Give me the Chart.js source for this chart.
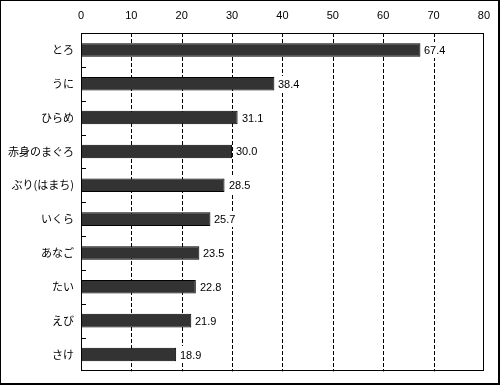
<!DOCTYPE html>
<html>
<head>
<meta charset="utf-8">
<script src="https://cdn.jsdelivr.net/npm/chart.js@4/dist/chart.umd.min.js"></script>
<style>
html,body{margin:0;padding:0;background:#fff;}
#wrap{position:relative;width:500px;height:385px;}
</style>
</head>
<body>
<div id="wrap"><canvas id="c" width="500" height="385"></canvas></div>
<script>
const categories = ["とろ","うに","ひらめ","赤身のまぐろ","ぶり(はまち)","いくら","あなご","たい","えび","さけ"];
const values = [67.4, 38.4, 31.1, 30.0, 28.5, 25.7, 23.5, 22.8, 21.9, 18.9];
const tickLabels = [0,10,20,30,40,50,60,70,80];

const JFONT = '"Noto Sans CJK JP", "Noto Sans", sans-serif';
const NFONT = '"Liberation Sans", Arial, sans-serif';

const framePlugin = {
  id: 'frame',
  beforeDraw(chart) {
    const ctx = chart.ctx;
    ctx.save();
    ctx.fillStyle = '#fff';
    ctx.fillRect(0, 0, chart.width, chart.height);
    ctx.restore();
  },
  beforeDatasetsDraw(chart) {
    const ctx = chart.ctx;
    const a = chart.chartArea;
    const xs = chart.scales.x;
    ctx.save();
    ctx.strokeStyle = '#000';
    ctx.lineWidth = 1;
    ctx.setLineDash([4, 2]);
    ctx.beginPath();
    tickLabels.forEach(v => {
      if (v === xs.min || v === xs.max) return;
      const x = Math.round(xs.getPixelForValue(v)) + 0.5;
      ctx.moveTo(x, a.top);
      ctx.lineTo(x, a.bottom);
    });
    ctx.stroke();
    ctx.restore();
  },
  afterDraw(chart) {
    const ctx = chart.ctx;
    const a = chart.chartArea;
    const ys = chart.scales.y;
    ctx.save();
    ctx.strokeStyle = '#000';
    ctx.lineWidth = 1;
    ctx.strokeRect(Math.round(a.left) + 0.5, Math.round(a.top) + 0.5, Math.round(a.right - a.left) - 1, Math.round(a.bottom - a.top) - 1);
    ctx.beginPath();
    for (let i = 1; i < categories.length; i++) {
      const y = Math.round((ys.getPixelForValue(i - 1) + ys.getPixelForValue(i)) / 2) + 0.5;
      ctx.moveTo(Math.round(a.left), y);
      ctx.lineTo(Math.round(a.left) + 5, y);
    }
    ctx.stroke();
    ctx.font = '11px ' + NFONT;
    ctx.textAlign = 'left';
    ctx.textBaseline = 'middle';
    const meta = chart.getDatasetMeta(0);
    meta.data.forEach((bar, i) => {
      const txt = values[i].toFixed(1);
      const w = ctx.measureText(txt).width;
      const x0 = Math.round(bar.x) + 2;
      ctx.fillStyle = '#fff';
      ctx.fillRect(x0, Math.round(bar.y) - 8, Math.ceil(w) + 4, 16);
      ctx.fillStyle = '#000';
      ctx.fillText(txt, x0 + 2, bar.y + 1);
    });
    ctx.fillStyle = '#000';
    ctx.fillRect(0, 0, chart.width, 1);
    ctx.fillRect(0, 0, 1, chart.height);
    ctx.fillRect(chart.width - 2, 0, 2, chart.height);
    ctx.fillRect(0, chart.height - 2, chart.width, 2);
    ctx.restore();
  }
};

new Chart(document.getElementById('c'), {
  type: 'bar',
  data: {
    labels: categories,
    datasets: [{
      data: values,
      backgroundColor: '#333333',
      borderColor: '#000000',
      borderWidth: 1,
      borderSkipped: false,
      categoryPercentage: 0.4,
      barPercentage: 1.0
    }]
  },
  options: {
    indexAxis: 'y',
    responsive: false,
    animation: false,
    devicePixelRatio: 1,
    layout: { padding: { top: 0, left: 0, right: 13, bottom: 5 } },
    plugins: { legend: { display: false }, tooltip: { enabled: false } },
    scales: {
      x: {
        position: 'top',
        min: 0,
        max: 80,
        afterBuildTicks(scale) { scale.ticks = tickLabels.map(v => ({ value: v })); },
        afterFit(scale) { scale.height = 33; },
        ticks: {
          color: '#000',
          font: { family: NFONT, size: 11 },
          padding: 10,
          callback: (v) => String(v)
        },
        grid: { display: false, drawTicks: false },
        border: { display: false }
      },
      y: {
        afterFit(scale) { scale.width = 81; },
        ticks: {
          color: '#000',
          font: { family: JFONT, size: 11 },
          padding: 7
        },
        grid: { display: false, drawTicks: false },
        border: { display: false }
      }
    }
  },
  plugins: [framePlugin]
});
</script>
</body>
</html>
